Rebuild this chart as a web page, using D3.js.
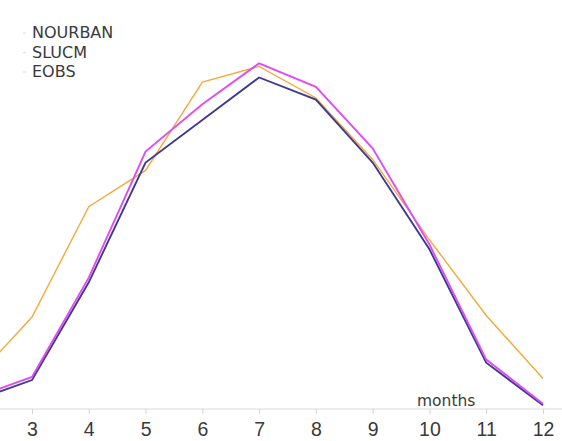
<!DOCTYPE html>
<html>
<head>
<meta charset="utf-8">
<script src="https://cdn.jsdelivr.net/npm/d3@7"></script>
<style>
  html, body { margin: 0; padding: 0; background: #fff; }
  svg { display: block; font-family: "DejaVu Sans", sans-serif; }
</style>
</head>
<body>
<svg id="chart" width="562" height="441"></svg>
<script>
// Monthly mean temperature (°C), months 2..12
const months = [2, 3, 4, 5, 6, 7, 8, 9, 10, 11, 12];
const tickMonths = [3, 4, 5, 6, 7, 8, 9, 10, 11, 12];
const nourban = [0.6, 1.9, 8.1, 15.7, 18.4, 21.1, 19.7, 15.7, 10.2, 3.0, 0.3];
const slucm   = [0.8, 2.1, 8.4, 16.4, 19.4, 22.0, 20.5, 16.6, 10.5, 3.2, 0.4];
const eobs    = [2.0, 5.9, 12.9, 15.2, 20.8, 21.8, 19.8, 15.9, 10.8, 6.0, 2.0];
const seriesNames = ["NOURBAN", "SLUCM", "EOBS"];
const seriesColors = ["#3e3a8e", "#e04cf4", "#f4a93c"];
const seriesWidths = [1.9, 1.9, 1.4];

const svg = d3.select("#chart");

const x = d3.scaleLinear().domain([3, 12]).range([32, 543]);
const y = d3.scaleLinear().domain([0, 25]).range([410, 16]);

// x axis
const axis = svg.append("g")
  .attr("transform", "translate(0,409)")
  .call(d3.axisBottom(x).tickValues(tickMonths).tickSize(5).tickPadding(8).tickFormat(d3.format("d")));
axis.select(".domain").attr("stroke", "#dadada").attr("d", "M0,0H562");
axis.selectAll(".tick line").attr("stroke", "#d4d4d4");
axis.selectAll(".tick text").attr("fill", "#3a3a3a").style("font-size", "19.5px");

svg.append("text")
  .attr("x", 417).attr("y", 406)
  .attr("fill", "#3a3a3a").style("font-size", "15.5px")
  .text("months");

// series lines
const line = d3.line().x((d, i) => x(months[i])).y(d => y(d));
const data = [nourban, slucm, eobs];
// EOBS underneath, then NOURBAN, SLUCM on top
[2, 0, 1].forEach(k => {
  svg.append("path")
    .datum(data[k])
    .attr("fill", "none")
    .attr("stroke", seriesColors[k])
    .attr("stroke-width", seriesWidths[k])
    .attr("stroke-linejoin", "miter")
    .attr("d", line);
});

// legend
const legend = svg.append("g").attr("transform", "translate(32,38)");
seriesNames.forEach((name, i) => {
  legend.append("line")
    .attr("x1", -9).attr("x2", -6)
    .attr("y1", i * 19.5 - 5).attr("y2", i * 19.5 - 5)
    .attr("stroke", "#dddddd").attr("stroke-width", 1);
  legend.append("text")
    .attr("x", 0).attr("y", i * 19.5)
    .attr("fill", "#3a3a3a").style("font-size", "16px")
    .text(name);
});
</script>
</body>
</html>
